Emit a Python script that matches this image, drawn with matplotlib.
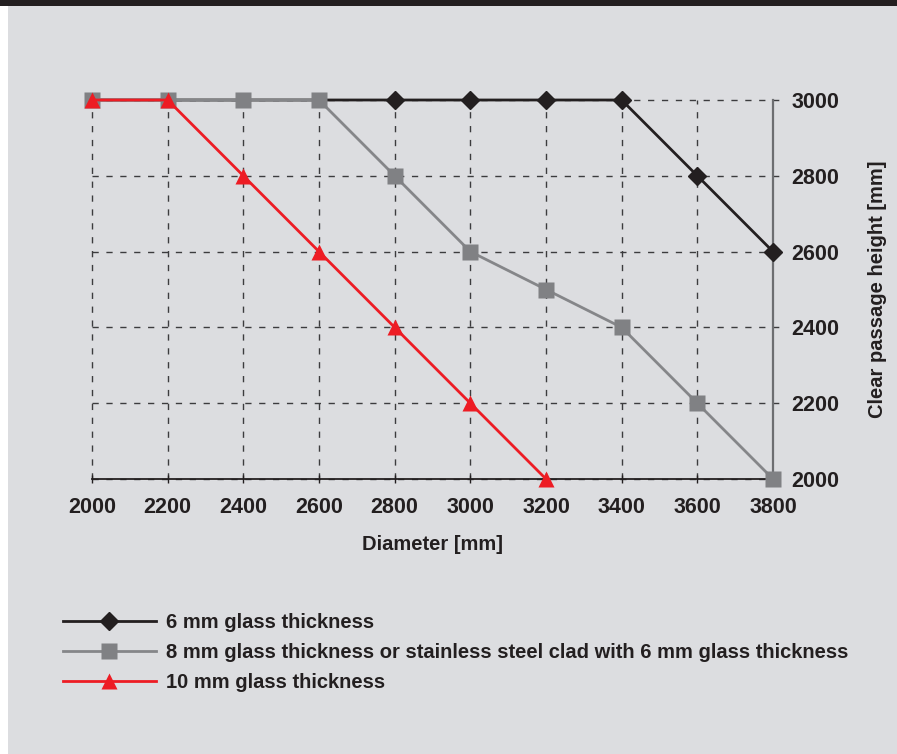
import matplotlib
matplotlib.use("Agg")
import matplotlib.pyplot as plt
from matplotlib.patches import Rectangle

plt.rcParams['font.family'] = ['Liberation Sans', 'DejaVu Sans']
plt.rcParams['font.weight'] = 'bold'

diameters = [2000, 2200, 2400, 2600, 2800, 3000, 3200, 3400, 3600, 3800]
glass_6mm = [3000, 3000, 3000, 3000, 3000, 3000, 3000, 3000, 2800, 2600]
glass_8mm = [3000, 3000, 3000, 3000, 2800, 2600, 2500, 2400, 2200, 2000]
diam_10mm = [2000, 2200, 2400, 2600, 2800, 3000, 3200]
glass_10mm = [3000, 3000, 2800, 2600, 2400, 2200, 2000]
x_ticks = [2000, 2200, 2400, 2600, 2800, 3000, 3200, 3400, 3600, 3800]
y_ticks = [2000, 2200, 2400, 2600, 2800, 3000]
labels = ["6 mm glass thickness",
          "8 mm glass thickness or stainless steel clad with 6 mm glass thickness",
          "10 mm glass thickness"]

W, H = 897, 754
BG = '#dcdde0'
TXT = '#231f20'
fig = plt.figure(figsize=(W / 100, H / 100), dpi=100, facecolor=BG)
fig.patches.append(Rectangle((0, 0), 8 / W, 1, transform=fig.transFigure,
                             facecolor='white', edgecolor='none', zorder=0))
fig.patches.append(Rectangle((0, 1 - 6 / H), 1, 6 / H, transform=fig.transFigure,
                             facecolor='#231f20', edgecolor='none', zorder=1))

left, right, top, bottom = 92, 773, 100, 479
ax = fig.add_axes([left / W, 1 - bottom / H, (right - left) / W, (bottom - top) / H])
ax.set_facecolor('none')
ax.set_xlim(2000, 3800)
ax.set_ylim(2000, 3000)

grid_kw = dict(color='#3c3c3e', linewidth=1.0, linestyle=(0, (4.5, 5.5)), zorder=1)
for y in y_ticks:
    ax.plot([2000, 3835], [y, y], clip_on=False, **grid_kw)
for x in x_ticks[:-1]:
    ax.plot([x, x], [2000, 3000], clip_on=False, **grid_kw)

ax.plot(diameters, glass_6mm, color='#231f20', lw=2, marker='D', ms=9.4,
        markevery=slice(4, None), zorder=3, clip_on=False, label=labels[0])
ax.plot(diameters, glass_8mm, color='#858689', lw=2, marker='s', ms=11.5,
        mfc='#808184', mec='none', zorder=4, clip_on=False, label=labels[1])
ax.plot(diam_10mm, glass_10mm, color='#ed1c24', lw=2, marker='^', ms=11.5,
        mec='none', zorder=5, clip_on=False, label=labels[2])

for s in ['left', 'top']:
    ax.spines[s].set_visible(False)
ax.spines['bottom'].set_color('#231f20')
ax.spines['bottom'].set_linewidth(1.3)
ax.spines['right'].set_color('#6d6e71')
ax.spines['right'].set_linewidth(1.6)
ax.spines['bottom'].set_zorder(2)

ax.set_xticks(x_ticks)
ax.set_xticklabels([str(v) for v in x_ticks])
ax.set_yticks(y_ticks)
ax.set_yticklabels([str(v) for v in y_ticks])
ax.yaxis.tick_right()
ax.yaxis.set_label_position('right')
ax.tick_params(axis='x', direction='inout', length=6, width=1, color='#231f20',
               pad=10, labelsize=15.5, labelcolor=TXT)
ax.tick_params(axis='y', length=0, pad=13, labelsize=15.5, labelcolor=TXT)
for t in ax.get_xticklabels() + ax.get_yticklabels():
    t.set_fontweight('bold')

ax.set_xlabel('Diameter [mm]', fontsize=14.5, fontweight='bold', color=TXT, labelpad=12)
ax.set_ylabel('Clear passage height [mm]', fontsize=14.5, fontweight='bold', color=TXT,
              labelpad=21, rotation=90)

leg = ax.legend(loc='upper left', bbox_to_anchor=(63 / W, 1 - 613 / H),
                bbox_transform=fig.transFigure, frameon=False, handlelength=4.6,
                handletextpad=0.5, labelspacing=0.55, fontsize=14.5, borderpad=0,
                borderaxespad=0)
for t in leg.get_texts():
    t.set_color(TXT)
    t.set_fontweight('bold')

fig.savefig('out.png', dpi=100, facecolor=BG)
